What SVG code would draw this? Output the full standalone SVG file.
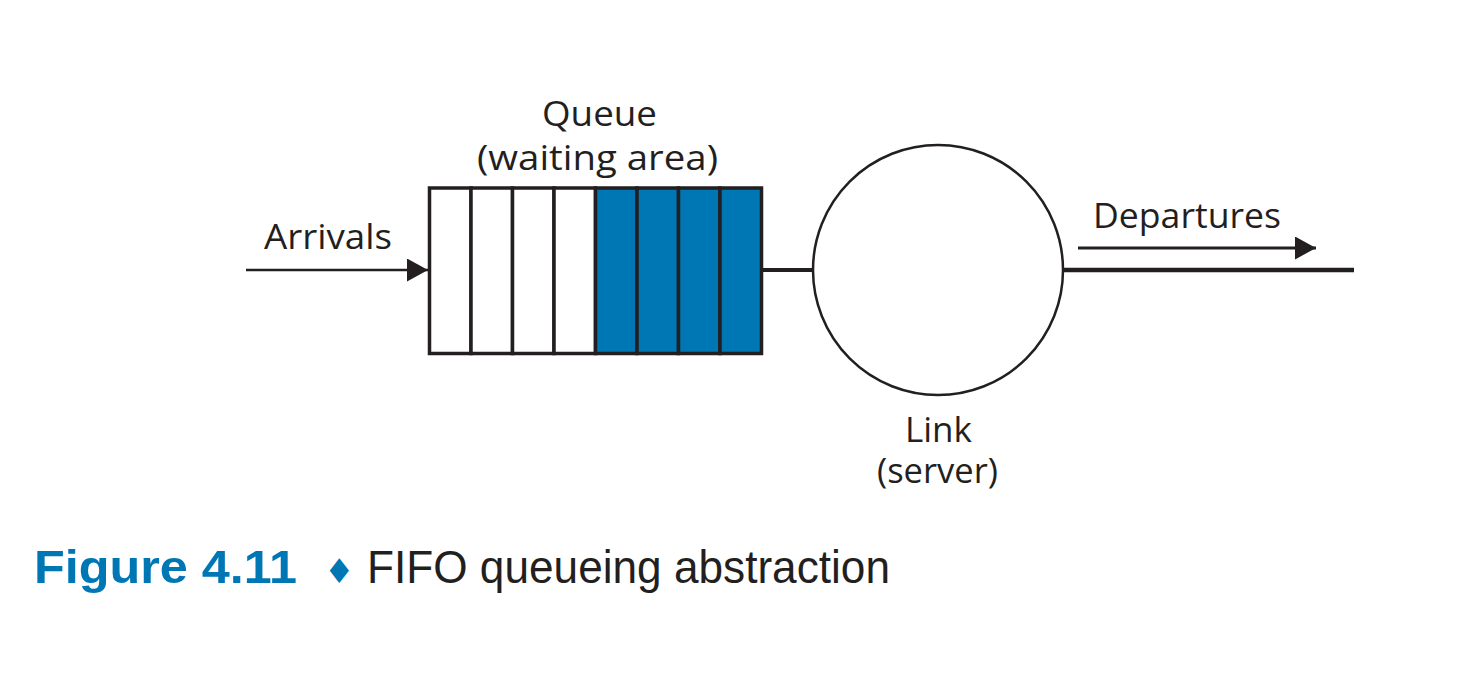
<svg xmlns="http://www.w3.org/2000/svg" width="1463" height="699" viewBox="0 0 1463 699">
<style>
.lbl{font-family:"Open Sans","Noto Sans","DejaVu Sans",sans-serif;font-size:34px;fill:#231f20}
.ln{stroke:#231f20;fill:none}
.cell{stroke:#231f20;stroke-width:3.5}
.blue{fill:#0077b5}
.white{fill:#fff}
</style>
<defs>
<marker id="ah" viewBox="0 0 21 23" refX="21" refY="11.5" markerWidth="21" markerHeight="23" markerUnits="userSpaceOnUse" orient="auto">
<path d="M0,0 L21,11.5 L0,23 Z" fill="#231f20"/>
</marker>
</defs>
<rect width="1463" height="699" fill="#fff"/>
<g id="connectors">
<line class="ln" x1="246" y1="270" x2="428" y2="270" stroke-width="2.5" marker-end="url(#ah)"/>
<line class="ln" x1="761" y1="270" x2="813" y2="270" stroke-width="4"/>
<line class="ln" x1="1063" y1="270" x2="1354" y2="270" stroke-width="4.5"/>
<line class="ln" x1="1078" y1="248" x2="1316" y2="248" stroke-width="3.2" marker-end="url(#ah)"/>
</g>
<g id="queue">
<rect class="cell white" x="429.5" y="188" width="41.5" height="165.5"/>
<rect class="cell white" x="471" y="188" width="41.5" height="165.5"/>
<rect class="cell white" x="512.5" y="188" width="41.5" height="165.5"/>
<rect class="cell white" x="554" y="188" width="41.5" height="165.5"/>
<rect class="cell blue" x="595.5" y="188" width="41.5" height="165.5"/>
<rect class="cell blue" x="637" y="188" width="41.5" height="165.5"/>
<rect class="cell blue" x="678.5" y="188" width="41.5" height="165.5"/>
<rect class="cell blue" x="720" y="188" width="41.5" height="165.5"/>
<text class="lbl" x="542" y="126" textLength="115" lengthAdjust="spacingAndGlyphs">Queue</text>
<text class="lbl" x="477" y="170" textLength="241" lengthAdjust="spacingAndGlyphs">(waiting area)</text>
</g>
<g id="link">
<circle cx="938" cy="270" r="125" fill="#fff" stroke="#231f20" stroke-width="2.5"/>
<text class="lbl" x="905" y="442" textLength="67" lengthAdjust="spacingAndGlyphs">Link</text>
<text class="lbl" x="877" y="483" textLength="121" lengthAdjust="spacingAndGlyphs">(server)</text>
</g>
<g id="labels">
<text class="lbl" x="264" y="249" textLength="128" lengthAdjust="spacingAndGlyphs">Arrivals</text>
<text class="lbl" x="1093" y="228" textLength="188" lengthAdjust="spacingAndGlyphs">Departures</text>
</g>
<g id="caption">
<text x="34" y="583" font-family="'Liberation Sans','DejaVu Sans',sans-serif" font-size="46" font-weight="bold" fill="#0077b5" textLength="263" lengthAdjust="spacingAndGlyphs">Figure 4.11</text>
<text x="324" y="583" font-family="'DejaVu Sans',sans-serif" font-size="34" fill="#0077b5">♦</text>
<text x="367" y="583" font-family="'Liberation Sans','DejaVu Sans',sans-serif" font-size="46" fill="#231f20" textLength="523" lengthAdjust="spacingAndGlyphs">FIFO queueing abstraction</text>
</g>
</svg>
